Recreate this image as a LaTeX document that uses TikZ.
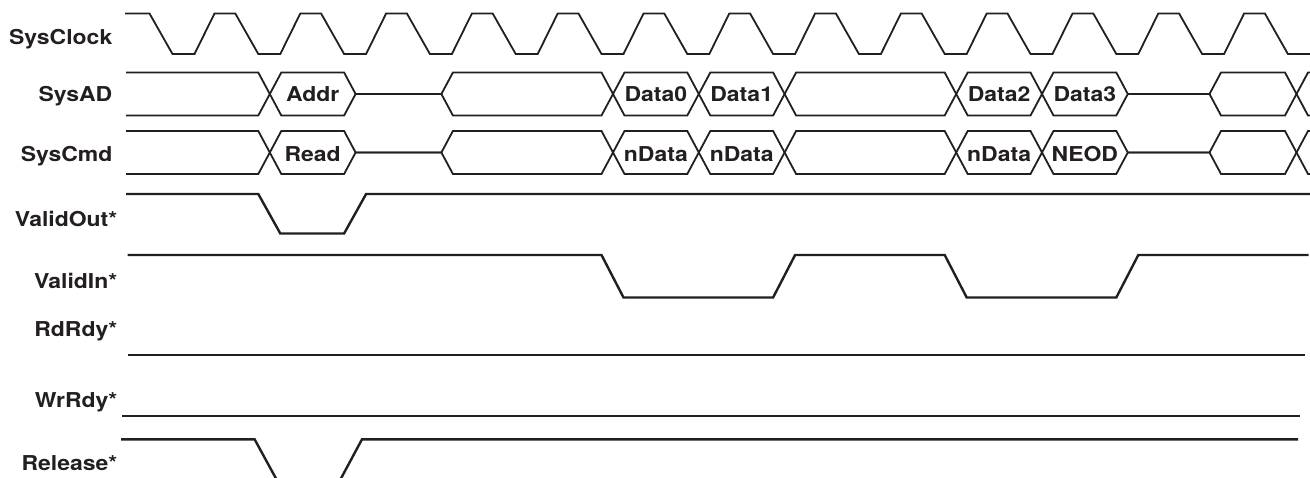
\documentclass[tikz,border=0pt]{standalone}
\usepackage{fontspec}
\setmainfont{TeX Gyre Heros}
\usepackage{tikz}
\usetikzlibrary{positioning}
\usepackage{xcolor}
\usepackage{graphicx}
\definecolor{ink}{RGB}{35,31,32}
\newcommand\wtxt[1]{\scalebox{1.12}[1]{#1}}

\tikzset{
  lbl/.style={anchor=base east, inner sep=0pt, text=ink, font=\fontsize{20.5}{24}\selectfont\bfseries},
  val/.style={anchor=base, inner sep=0pt, text=ink, font=\fontsize{20.5}{24}\selectfont\bfseries},
  sig/.style={line width=2.4pt, ink},
  bus/.style={line width=1.8pt, ink},
  clk/.style={line width=1.8pt, ink}
}

\begin{document}
\begin{tikzpicture}[x=1pt, y=-1pt]
					\path[use as bounding box] (0,0) rectangle (1310,478);
					\clip (0,0) rectangle (1310,478);

					% Signal names
					\node[lbl] (sysclock) at (112.5,45) {\wtxt{SysClock}};
					\node[lbl] (sysad) at (112.5,101.7) {\wtxt{SysAD}};
					\node[lbl] (syscmd) at (112.5,161.7) {\wtxt{SysCmd}};
					\node[lbl] (validout) at (117.5,226.7) {\wtxt{ValidOut*}};
					\node[lbl] (validin) at (117.5,288.3) {\wtxt{ValidIn*}};
					\node[lbl] (rdrdy) at (117.5,336.7) {\wtxt{RdRdy*}};
					\node[lbl] (wrrdy) at (117.5,408) {\wtxt{WrRdy*}};
					\node[lbl] (release) at (117.5,470) {\wtxt{Release*}};

					% The clock
					\draw[clk] (125,13.5) foreach \k in {0,...,12} {
						-- ({149.5+85.8*\k},13.5) -- ({172.5+85.8*\k},54)
						-- ({194.5+85.8*\k},54) -- ({214.5+85.8*\k},13.5) }
						-- (1264.9,13.5) -- (1287.9,54) -- (1312,54);

					% SysAD and SysCmd have the same shape, one row lower
					\foreach \dy in {0,58.5} {
						\begin{scope}[yshift=-\dy pt]
							\draw[bus] (126,72.5) -- (258.3,72.5) -- (281.3,115.5) -- (344.1,115.5) -- (355.6,94)
								-- (441.4,94) -- (452.9,72.5) -- (601.5,72.5) -- (624.5,115.5) -- (687.3,115.5)
								-- (710.3,72.5) -- (773.1,72.5) -- (796.1,115.5) -- (944.7,115.5) -- (967.7,72.5)
								-- (1030.5,72.5) -- (1053.5,115.5) -- (1116.3,115.5) -- (1127.8,94) -- (1209.5,94)
								-- (1221,72.5) -- (1285,72.5) -- (1308,115.5) -- (1315,115.5);
							\draw[bus] (126,115.5) -- (258.3,115.5) -- (281.3,72.5) -- (344.1,72.5) -- (355.6,94)
								-- (441.4,94) -- (452.9,115.5) -- (601.5,115.5) -- (624.5,72.5) -- (687.3,72.5)
								-- (710.3,115.5) -- (773.1,115.5) -- (796.1,72.5) -- (944.7,72.5) -- (967.7,115.5)
								-- (1030.5,115.5) -- (1053.5,72.5) -- (1116.3,72.5) -- (1127.8,94) -- (1209.5,94)
								-- (1221,115.5) -- (1285,115.5) -- (1308,72.5) -- (1315,72.5);
						\end{scope}
					}

					% Values on the bus
					\node[val] (addr) at (312.7,101.7) {\wtxt{Addr}};
					\node[val] (data0) at (655.9,101.7) {\wtxt{Data0}};
					\node[val] (data1) at (741.7,101.7) {\wtxt{Data1}};
					\node[val] (data2) at (999.1,101.7) {\wtxt{Data2}};
					\node[val] (data3) at (1084.9,101.7) {\wtxt{Data3}};
					\node[val] (read) at (312.7,161.7) {\wtxt{Read}};
					\node[val] (ndata0) at (655.9,161.7) {\wtxt{nData}};
					\node[val] (ndata1) at (741.7,161.7) {\wtxt{nData}};
					\node[val] (ndata2) at (999.1,161.7) {\wtxt{nData}};
					\node[val] (neod) at (1084.9,161.7) {\wtxt{NEOD}};

					% Control lines
					\draw[sig] (126,194) -- (258.3,194) -- (280.3,233.5) -- (344.1,233.5) -- (366.1,194) -- (1312,194);
					\draw[sig] (127.5,255) -- (601.5,255) -- (623.5,297.5) -- (773.1,297.5) -- (795.1,255)
						-- (944.7,255) -- (966.7,297.5) -- (1116.3,297.5) -- (1138.3,255) -- (1308.6,255);
					\draw[sig] (127.5,355) -- (1304.5,355);
					\draw[sig] (122,416) -- (1299.5,416);
					\draw[sig] (121,439.3) -- (254.6,439.3) -- (279,484) -- (338,484) -- (362,439.3) -- (1298,439.3);
				\end{tikzpicture}
\end{document}
